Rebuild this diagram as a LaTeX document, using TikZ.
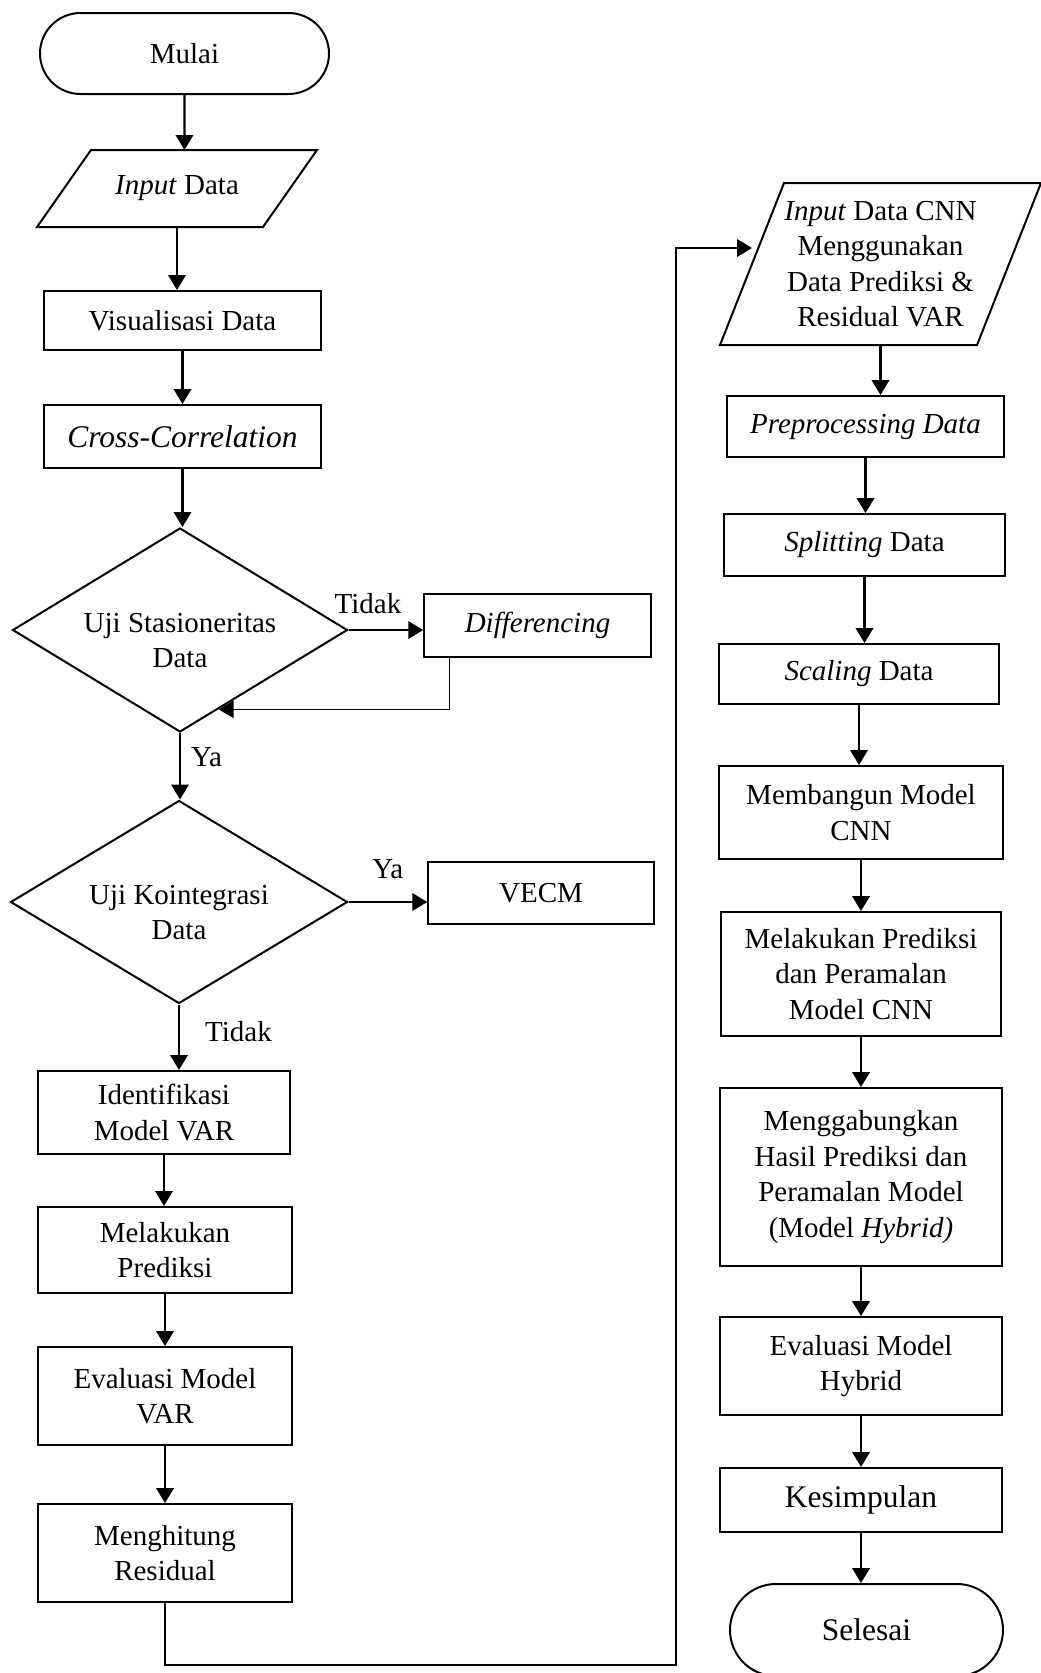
\documentclass[tikz,border=0pt]{standalone}
\usepackage{fontspec}
\setmainfont{Liberation Serif}
\usetikzlibrary{shapes.geometric,shapes.misc,arrows.meta}

\tikzset{
    base/.style={draw, line width=0.8pt, align=center, inner sep=0pt,
        font=\fontsize{11.6}{14.2}\selectfont},
    term/.style={base, rounded rectangle},
    proc/.style={base, rectangle},
    io/.style={base, rectangle, draw=none},
    decision/.style={base, diamond, aspect=1.64},
    big/.style={font=\fontsize{12.6}{15}\selectfont},
    arr/.style={line width=0.9pt, -{Triangle[length=6pt, width=7pt]}},
    lbl/.style={font=\fontsize{11.6}{14.2}\selectfont, inner sep=0pt}
}

\begin{document}
\begin{tikzpicture}[x=0.4pt, y=-0.4pt]
    \def \u {0.4pt}
    \def \turun {\rule{0pt}{16pt}}
    \useasboundingbox (0,0) rectangle (1040,1673);

    % kolom kiri
    \node[term, minimum width=289*\u, minimum height=81*\u] (mulai) at (184.5,53.5) {Mulai};
    \node[io, minimum width=224*\u, minimum height=75*\u] (inp) at (177,188.5) {\textit{Input} Data};
    \node[proc, minimum width=277*\u, minimum height=59*\u] (vis) at (182.5,320.5) {Visualisasi Data};
    \node[proc, big, minimum width=277*\u, minimum height=63*\u] (cc) at (182.5,436.5) {\textit{Cross-Correlation}};
    \node[decision, minimum width=335*\u, minimum height=204*\u] (stas) at (180,630) {\turun Uji Stasioneritas\\Data};
    \node[proc, line width=0.6pt, minimum width=227*\u, minimum height=63*\u] (diff) at (537.5,625.5) {\textit{Differencing}};
    \node[decision, minimum width=337*\u, minimum height=203*\u] (koin) at (179,902) {\turun Uji Kointegrasi\\Data};
    \node[proc, line width=0.6pt, minimum width=226*\u, minimum height=62*\u] (vecm) at (541,893) {VECM};
    \node[proc, minimum width=252*\u, minimum height=83*\u] (ident) at (164,1112.5) {Identifikasi\\Model VAR};
    \node[proc, minimum width=254*\u, minimum height=86*\u] (pred) at (165,1250) {Melakukan\\Prediksi};
    \node[proc, minimum width=254*\u, minimum height=98*\u] (evar) at (165,1396) {Evaluasi Model\\VAR};
    \node[proc, minimum width=254*\u, minimum height=98*\u] (resid) at (165,1553) {Menghitung\\Residual};

    % kolom kanan
    \node[io, minimum width=255*\u, minimum height=160*\u] (cnnin) at (880.5,264)
          {\textit{Input} Data CNN\\Menggunakan\\Data Prediksi \&\\Residual VAR};
    \node[proc, minimum width=277*\u, minimum height=61*\u] (prep) at (865.5,426.5) {\textit{Preprocessing Data}};
    \node[proc, minimum width=281*\u, minimum height=62*\u] (split) at (864.5,545) {\textit{Splitting} Data};
    \node[proc, minimum width=280*\u, minimum height=60*\u] (scal) at (859,674) {\textit{Scaling} Data};
    \node[proc, minimum width=284*\u, minimum height=93*\u] (cnn) at (861,812.5) {Membangun Model\\CNN};
    \node[proc, minimum width=280*\u, minimum height=124*\u] (ppred) at (861,974) {Melakukan Prediksi\\dan Peramalan\\Model CNN};
    \node[proc, minimum width=282*\u, minimum height=178*\u] (gab) at (861,1177)
          {Menggabungkan\\Hasil Prediksi dan\\Peramalan Model\\(Model \textit{Hybrid)}};
    \node[proc, minimum width=282*\u, minimum height=98*\u] (ehyb) at (861,1366) {Evaluasi Model\\Hybrid};
    \node[proc, big, minimum width=282*\u, minimum height=64*\u] (kes) at (861,1500) {Kesimpulan};
    \node[term, big, minimum width=273*\u, minimum height=92*\u] (sel) at (866.5,1630) {Selesai};

    % jajaran genjang input
    \foreach \n/\s in {inp/27, cnnin/32} {
        \draw[line width=0.8pt] ([xshift=\s*\u]\n.north west) -- ([xshift=\s*\u]\n.north east)
            -- ([xshift=-\s*\u]\n.south east) -- ([xshift=-\s*\u]\n.south west) -- cycle;
    }

    % alur lurus
    \foreach \a/\b in {mulai/inp, inp/vis, vis/cc, cc/stas, ident/pred, pred/evar, evar/resid,
                       cnnin/prep, prep/split, split/scal, scal/cnn, cnn/ppred, ppred/gab,
                       gab/ehyb, ehyb/kes, kes/sel} {
        \draw[arr] (\a) -- (\a |- \b.north);
    }

    % cabang keputusan
    \draw[arr] (stas.east) -- (stas.east -| diff.west)
        node[lbl, pos=.26, above=6pt] (tidak1) {Tidak};
    \draw[line width=0.6pt, -{Triangle[length=6pt, width=7pt]}]
        ([xshift=26*\u]diff.south west) |- (stas.-64);
    \draw[arr] (stas.south) -- (stas.south |- koin.north)
        node[lbl, pos=.36, right=4pt] (ya1) {Ya};
    \draw[arr] (koin.east) -- (koin.east -| vecm.west)
        node[lbl, midway, above=9pt] (ya2) {Ya};
    \draw[arr] (koin.south) -- (koin.south |- ident.north)
        node[lbl, pos=.41, right=10pt] (tidak2) {Tidak};

    % sambungan ke kolom kanan
    \coordinate (busB) at (676,1665);
    \coordinate (busT) at (676,248);
    \draw[arr] (resid.south) |- (busB) -- (busT) -- (busT -| cnnin.west);
\end{tikzpicture}
\end{document}
